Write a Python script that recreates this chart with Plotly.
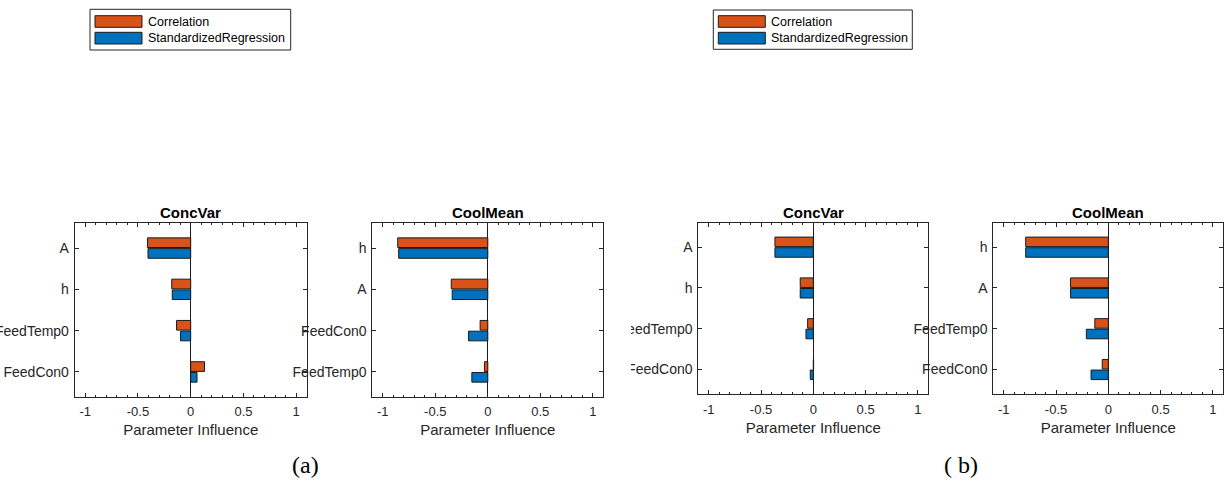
import plotly.graph_objects as go

# ---- data -------------------------------------------------------------
series_names = ["Correlation", "StandardizedRegression"]
series_colors = ["#D95319", "#0072BD"]

# case (a)
a_concvar_params = ["A", "h", "FeedTemp0", "FeedCon0"]
a_concvar_corr = [-0.41, -0.18, -0.134, 0.131]
a_concvar_std = [-0.405, -0.175, -0.096, 0.06]

a_coolmean_params = ["h", "A", "FeedCon0", "FeedTemp0"]
a_coolmean_corr = [-0.858, -0.348, -0.073, -0.032]
a_coolmean_std = [-0.849, -0.339, -0.184, -0.152]

# case (b)
b_concvar_params = ["A", "h", "FeedTemp0", "FeedCon0"]
b_concvar_corr = [-0.367, -0.125, -0.054, 0.003]
b_concvar_std = [-0.367, -0.125, -0.070, -0.029]

b_coolmean_params = ["h", "A", "FeedTemp0", "FeedCon0"]
b_coolmean_corr = [-0.79, -0.361, -0.129, -0.058]
b_coolmean_std = [-0.79, -0.361, -0.21, -0.165]

panel_titles = ["ConcVar", "CoolMean", "ConcVar", "CoolMean"]
x_ticks = [-1, -0.5, 0, 0.5, 1]
x_label = "Parameter Influence"
captions = ["(a)", "( b)"]

# ---- layout geometry (pixels) -------------------------------------------
W, H = 1227, 481
panels = [
    # (params, corr, std, x0, x1, y_top, y_bottom)
    (a_concvar_params, a_concvar_corr, a_concvar_std, 74.7, 306.7, 223.3, 396.7),
    (a_coolmean_params, a_coolmean_corr, a_coolmean_std, 372.3, 603.3, 223.3, 396.7),
    (b_concvar_params, b_concvar_corr, b_concvar_std, 698.3, 928.3, 222.7, 394.0),
    (b_coolmean_params, b_coolmean_corr, b_coolmean_std, 993.3, 1223.3, 222.7, 394.0),
]

AX_COLOR = "#262626"
FONT = "Liberation Sans, Arial, sans-serif"

fig = go.Figure()
annotations = []

for i, (params, corr, std, x0, x1, yt, yb) in enumerate(panels):
    n = "" if i == 0 else str(i + 1)
    xa, ya = "x" + n, "y" + n
    for name, vals, col in zip(series_names, [corr, std], series_colors):
        fig.add_trace(go.Bar(
            x=vals, y=params, orientation="h", name=name,
            marker=dict(color=col, line=dict(color="#1a1a1a", width=1)),
            xaxis=xa, yaxis=ya, showlegend=False,
        ))
    xdom = [x0 / W, x1 / W]
    ydom = [1 - yb / H, 1 - yt / H]
    common = dict(showline=True, linecolor=AX_COLOR, linewidth=1, mirror="ticks",
                  ticks="inside", tickcolor=AX_COLOR, showgrid=False)
    fig.layout["xaxis" + n] = dict(
        domain=xdom, anchor=ya, range=[-1.1, 1.1],
        tickvals=x_ticks, ticktext=[f"{v:g}" for v in x_ticks], ticklen=4,
        ticklabelstandoff=3,
        tickfont=dict(family=FONT, size=13, color=AX_COLOR),
        minor=dict(dtick=0.1, tick0=0, ticks="inside", ticklen=2, tickcolor=AX_COLOR),
        zeroline=True, zerolinecolor="#1a1a1a", zerolinewidth=1,
        title=dict(text=x_label, font=dict(family=FONT, size=15, color=AX_COLOR), standoff=6),
        **common,
    )
    fig.layout["yaxis" + n] = dict(
        domain=ydom, anchor=xa, type="category",
        categoryorder="array", categoryarray=params,
        range=[3.6, -0.6], ticklen=4, zeroline=False, ticklabelstandoff=2,
        tickfont=dict(family=FONT, size=14, color=AX_COLOR),
        **common,
    )
    annotations.append(dict(
        text=f"<b>{panel_titles[i]}</b>", x=(x0 + x1) / 2 / W, y=1 - 212 / H,
        xref="paper", yref="paper", showarrow=False, xanchor="center", yanchor="middle",
        font=dict(family=FONT, size=15, color="black"),
    ))

shapes = []

# the (b) figure starts at its own left edge: labels poking past it are cut
shapes.append(dict(type="rect", xref="paper", yref="paper", layer="above",
                   x0=606 / W, x1=631 / W, y0=1 - 392 / H, y1=1 - 300 / H,
                   line=dict(width=0), fillcolor="white"))

# ---- legend boxes (one per case) ----------------------------------------
for (bx0, bx1, by0, by1) in [(90, 290.7, 9.3, 50), (713.3, 912.3, 10, 49.3)]:
    shapes.append(dict(type="rect", xref="paper", yref="paper",
                       x0=bx0 / W, x1=bx1 / W, y0=1 - by1 / H, y1=1 - by0 / H,
                       line=dict(color=AX_COLOR, width=1), fillcolor="white"))
    rows = [(15.7, 27.3), (32.3, 44.0)]
    for (py0, py1), name, col in zip(rows, series_names, series_colors):
        px0 = bx0 + 5
        px1 = px0 + 47
        shapes.append(dict(type="rect", xref="paper", yref="paper",
                           x0=px0 / W, x1=px1 / W, y0=1 - py1 / H, y1=1 - py0 / H,
                           line=dict(color="#1a1a1a", width=1), fillcolor=col))
        annotations.append(dict(
            text=name, x=(px1 + 3.5) / W, y=1 - (py0 + py1) / 2 / H,
            xref="paper", yref="paper", showarrow=False, xanchor="left", yanchor="middle",
            font=dict(family=FONT, size=12.5, color="black"),
        ))

# ---- captions -----------------------------------------------------------
for cap, cx in zip(captions, [305, 961]):
    annotations.append(dict(
        text=cap, x=cx / W, y=1 - 465 / H, xref="paper", yref="paper",
        showarrow=False, xanchor="center", yanchor="middle",
        font=dict(family="Liberation Serif, Times New Roman, serif", size=24, color="black"),
    ))

fig.update_layout(
    template="none",
    width=W, height=H, margin=dict(l=0, r=0, t=0, b=0),
    paper_bgcolor="white", plot_bgcolor="white",
    barmode="group", bargap=0.48, bargroupgap=0.1,
    annotations=annotations, shapes=shapes, showlegend=False,
    font=dict(family=FONT, color=AX_COLOR),
)

fig.write_html("out.html")
